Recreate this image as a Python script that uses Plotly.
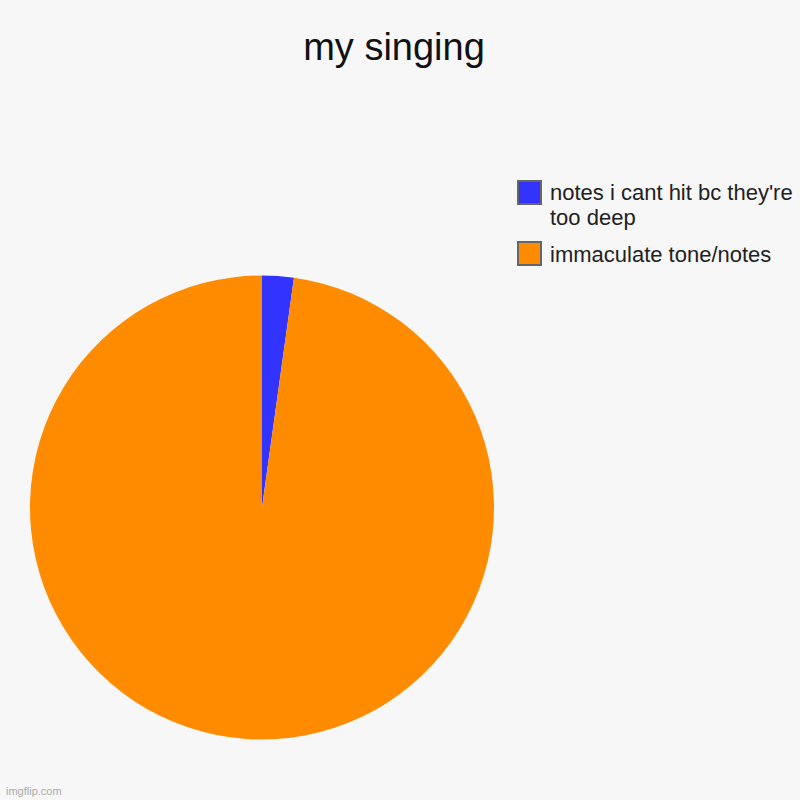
import plotly.graph_objects as go

labels = ["notes i cant hit bc they're<br>too deep", "immaculate tone/notes"]
values = [2.2, 97.8]
colors = ["#3333ff", "#ff8c00"]

W = H = 800

fig = go.Figure(go.Pie(
    labels=labels,
    values=values,
    sort=False,
    direction="clockwise",
    rotation=0,
    textinfo="none",
    hoverinfo="label+percent",
    showlegend=False,
    marker=dict(colors=colors, line=dict(width=0)),
    domain=dict(x=[30/W, 494/W], y=[1-740/H, 1-275/H]),
))

# custom legend (large boxes like the reference)
shapes = []
annotations = []
box_tops = [181, 242]
for lab, col, top in zip(labels, colors, box_tops):
    shapes.append(dict(type="rect", xref="paper", yref="paper",
                       x0=518/W, x1=541/W, y0=1-top/H, y1=1-(top+23)/H,
                       fillcolor=col, line=dict(color="#666666", width=2)))
    for i, line in enumerate(lab.split("<br>")):
        yc = top + 12 + i * 24.5
        annotations.append(dict(text=line, x=548/W, y=1-yc/H, xref="paper", yref="paper",
                                xanchor="left", yanchor="middle", showarrow=False,
                                font=dict(size=22, color="#222222")))

annotations.append(dict(text="imgflip.com", x=4/W, y=1-791/H, xref="paper", yref="paper",
                        xanchor="left", yanchor="middle", showarrow=False,
                        font=dict(size=11, color="#aaaaaa")))

fig.update_layout(
    width=W, height=H,
    margin=dict(l=0, r=0, t=0, b=0),
    paper_bgcolor="#f7f7f7",
    plot_bgcolor="#f7f7f7",
    font=dict(family="Liberation Sans, Arial, sans-serif", color="#222222"),
    title=dict(text="my singing", x=394/W, xanchor="center", y=1-47/H, yanchor="middle",
               font=dict(size=38, color="#111111")),
    shapes=shapes,
    annotations=annotations,
)

fig.write_html("out.html",
               config={"displayModeBar": False},
               post_script="document.body.style.margin='0';document.body.style.background='#f7f7f7';")
